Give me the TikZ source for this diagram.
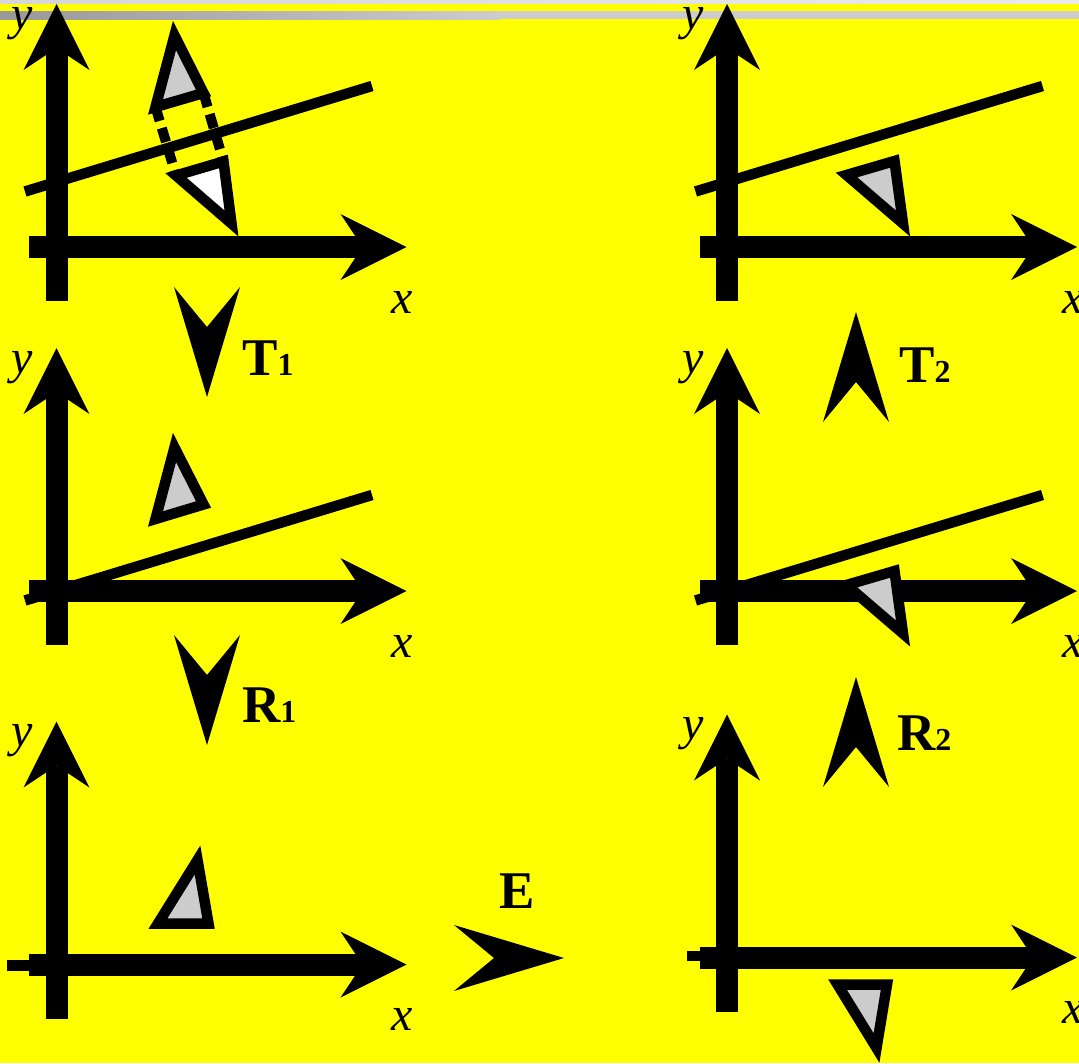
\documentclass[tikz,border=0pt]{standalone}
\usepackage{fontspec}
\setmainfont{Liberation Serif}
\definecolor{bgyellow}{RGB}{255,255,0}
\definecolor{trigray}{RGB}{204,204,204}
\newcommand\sublab[1]{{\fontsize{32}{32}\selectfont #1}}
\begin{document}
\begin{tikzpicture}[x=1pt,y=-1pt,
  axisline/.style={line width=22pt},
  thinline/.style={line width=10.5pt},
  tri/.style={line width=10.5pt, line join=miter, draw=black, fill=trigray},
  triw/.style={tri, fill=white},
  dashline/.style={line width=10pt, dash pattern=on 14.5pt off 7.5pt},
  lab/.style={font=\fontsize{48}{48}\selectfont\itshape, anchor=base, inner sep=0pt},
  blab/.style={font=\fontsize{53}{53}\selectfont\bfseries, anchor=base west, inner sep=0pt},
  axes/.pic={
    \draw[axisline] (-27.5,0) -- (306,0);
    \fill (350,0) -- (284,-33) -- (306,0) -- (284,33) -- cycle;
    \draw[axisline] (0,54) -- (0,-199);
    \fill (0,-243) -- (-33,-177) -- (0,-199) -- (33,-177) -- cycle;
    \node[lab] (-y) at (-34,-218) {y};
    \node[lab] (-x) at (346,66) {x};
  },
  dart/.pic={\fill (0,0) -- (-110,-33) -- (-70,0) -- (-110,33) -- cycle;}
]
\useasboundingbox (0,0) rectangle (1079,1063);
\clip (0,0) rectangle (1079,1063);
% background
\fill[bgyellow] (0,0) rectangle (1079,1063);
\shade[left color=black!16, right color=black!8] (0,0) rectangle (1079,3);
\shade[left color=black!40, right color=black!20] (0,11) rectangle (500,19.3);
\fill[black!20] (499.5,11) rectangle (1079,19.3);

% panel origins
\coordinate (o1) at (56.5,247);
\coordinate (o2) at (727,247);
\coordinate (o3) at (56.5,591);
\coordinate (o4) at (727,591);
\coordinate (o5) at (56.5,964.5);
\coordinate (o6) at (727,957.5);

% panel 1
\draw[thinline] (25,191.5) -- (372,86);
\pic (p1) at (o1) {axes};
\draw[dashline] (155.5,107) -- (176,175.5);
\draw[dashline] (203.5,93) -- (223.5,161.5);
\draw[tri] (174.5,35.5) -- (155.5,107) -- (203.5,93) -- cycle;
\draw[triw] (176,175.5) -- (223.5,161.5) -- (231.5,223.5) -- cycle;

% panel 2
\draw[thinline] (695.5,191.5) -- (1042.5,86);
\pic (p2) at (o2) {axes};
\draw[tri] (846.5,175) -- (894.5,161) -- (903,223.5) -- cycle;

% panel 3
\draw[thinline] (25,600.5) -- (372,495);
\pic (p3) at (o3) {axes};
\draw[tri] (174.5,447.5) -- (155.5,519) -- (203.5,504.5) -- cycle;

% panel 4
\draw[thinline] (695.5,600.5) -- (1042.5,495);
\pic (p4) at (o4) {axes};
\draw[tri] (846.5,585) -- (894.5,571) -- (903,633.5) -- cycle;

% panel 5
\draw[thinline] (7,965.5) -- (370,965.5);
\pic (p5) at (o5) {axes};
\draw[tri] (197.5,860) -- (158,923.5) -- (208.5,923.5) -- cycle;

% panel 6
\draw[thinline] (687,956) -- (1050,956);
\pic (p6) at (o6) {axes};
\draw[tri] (837.5,984.5) -- (887,984.5) -- (876.5,1048) -- cycle;

% transformation arrows
\coordinate (t1tip) at (207,397);
\coordinate (r1tip) at (207,745);
\coordinate (t2tip) at (856,312);
\coordinate (r2tip) at (856,677);
\coordinate (etip) at (564,958);
\pic[rotate=-90] at (t1tip) {dart};
\pic[rotate=-90] at (r1tip) {dart};
\pic[rotate=90] at (t2tip) {dart};
\pic[rotate=90] at (r2tip) {dart};
\pic at (etip) {dart};

% labels
\node[blab] (T1) at (242,375) {T\sublab{1}};
\node[blab] (R1) at (242,722) {R\sublab{1}};
\node[blab] (T2) at (899,382) {T\sublab{2}};
\node[blab] (R2) at (897,750) {R\sublab{2}};
\node[blab] (E) at (499,908) {E};
\end{tikzpicture}
\end{document}
